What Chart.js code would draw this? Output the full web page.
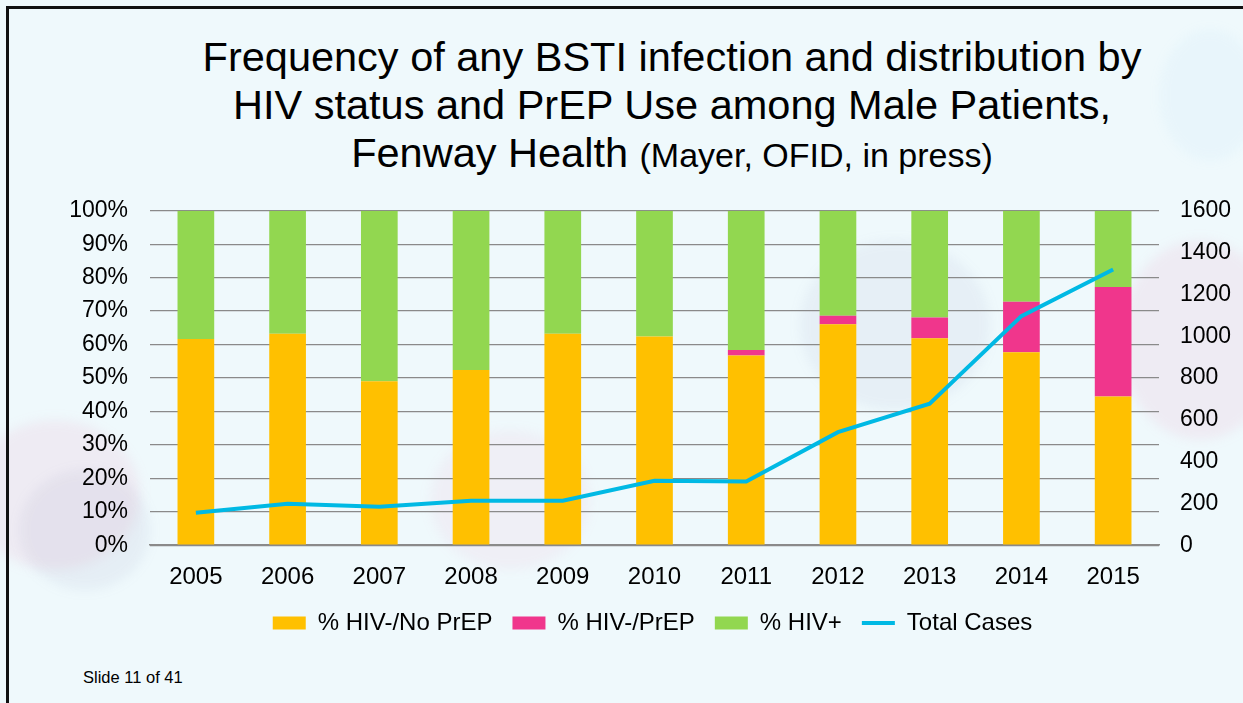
<!DOCTYPE html>
<html>
<head>
<meta charset="utf-8">
<script src="https://cdn.jsdelivr.net/npm/chart.js@4"></script>
<style>
  html, body { margin: 0; padding: 0; }
  body {
    width: 1243px; height: 703px; overflow: hidden; position: relative;
    background: #eff9fc;
    font-family: "Liberation Sans", Arial, sans-serif;
  }
  #frame {
    position: absolute; left: 6px; top: 6px; width: 1300px; height: 800px;
    border-left: 3px solid #111; border-top: 3px solid #111;
  }
  .blob { position: absolute; border-radius: 50%; filter: blur(6px); }
  #title {
    position: absolute; left: 101px; top: 33px; width: 1142px;
    text-align: center; font-size: 41.5px; line-height: 47.8px; color: #000;
  }
  #title small { font-size: 34px; }
  #wrap { position: absolute; left: 0; top: 175px; width: 1243px; height: 470px; }
  #slide { position: absolute; left: 83px; top: 668px; font-size: 16.5px; color: #000; }
</style>
</head>
<body>
<div class="blob" style="left:-30px;top:420px;width:170px;height:150px;background:rgba(240,120,170,0.10)"></div>
<div class="blob" style="left:20px;top:470px;width:130px;height:120px;background:rgba(120,110,170,0.08)"></div>
<div class="blob" style="left:1120px;top:240px;width:160px;height:200px;background:rgba(240,120,170,0.10)"></div>
<div class="blob" style="left:1160px;top:30px;width:100px;height:130px;background:rgba(150,200,240,0.08)"></div>
<div class="blob" style="left:430px;top:430px;width:160px;height:140px;background:rgba(240,120,170,0.07)"></div>
<div class="blob" style="left:800px;top:240px;width:190px;height:170px;background:rgba(120,110,170,0.07)"></div>
<div id="frame"></div>
<div id="title">Frequency of any BSTI infection and distribution by<br>HIV status and PrEP Use among Male Patients,<br>Fenway Health <small>(Mayer, OFID, in press)</small></div>
<div id="wrap"><canvas id="chart"></canvas></div>
<div id="slide">Slide 11 of 41</div>
<script>
// data
var years = ['2005', '2006', '2007', '2008', '2009', '2010', '2011', '2012', '2013', '2014', '2015'];
var hivNegNoPrep = [61.7, 63.2, 49.0, 52.4, 63.2, 62.4, 56.7, 66.1, 61.9, 57.7, 44.5];
var hivNegPrep = [0, 0, 0, 0, 0, 0, 1.7, 2.5, 6.2, 15.1, 32.7];
var hivPos = [38.3, 36.8, 51.0, 47.6, 36.8, 37.6, 41.6, 31.4, 31.9, 27.2, 22.8];
var totalCases = [155, 198, 184, 213, 213, 308, 305, 541, 677, 1096, 1319];
var pctTicks = [0, 10, 20, 30, 40, 50, 60, 70, 80, 90, 100];
var caseTicks = [0, 200, 400, 600, 800, 1000, 1200, 1400, 1600];

var FONT = '"Liberation Sans", Arial, sans-serif';

function barSet(label, data, color) {
    return {
        type: 'bar', label: label, data: data, backgroundColor: color,
        yAxisID: 'y', order: 1, categoryPercentage: 0.4, barPercentage: 1
    };
}

new Chart(document.getElementById('chart'), {
    data: {
        labels: years,
        datasets: [
            barSet('% HIV-/No PrEP', hivNegNoPrep, '#ffc000'),
            barSet('% HIV-/PrEP', hivNegPrep, '#f0368c'),
            barSet('% HIV+', hivPos, '#92d750'),
            {
                type: 'line', label: 'Total Cases', data: totalCases,
                borderColor: '#00b9e4', backgroundColor: '#00b9e4',
                borderWidth: 4, pointRadius: 0, tension: 0,
                yAxisID: 'y1', order: 0
            }
        ]
    },
    options: {
        responsive: true,
        maintainAspectRatio: false,
        animation: false,
        // left padding keeps the legend centred under the plot, like the slide
        layout: { padding: { left: 62, right: 0, top: 0, bottom: 0 } },
        plugins: {
            tooltip: { enabled: false },
            legend: {
                position: 'bottom',
                labels: {
                    color: '#000',
                    font: { family: FONT, size: 24 },
                    usePointStyle: true,
                    pointStyleWidth: 33,
                    boxHeight: 13,
                    padding: 20,
                    sort: function(a, b) { return a.datasetIndex - b.datasetIndex; },
                    generateLabels: function(chart) {
                        var items = Chart.defaults.plugins.legend.labels.generateLabels(chart);
                        items.forEach(function(it) {
                            var ds = chart.data.datasets[it.datasetIndex];
                            if (ds.type === 'line') {
                                it.pointStyle = 'line';
                                it.lineWidth = 4;
                                it.strokeStyle = ds.borderColor;
                            } else {
                                it.pointStyle = 'rect';
                                it.lineWidth = 0;
                                it.fillStyle = ds.backgroundColor;
                            }
                        });
                        return items;
                    }
                }
            }
        },
        scales: {
            x: {
                stacked: true,
                grid: { display: false },
                border: { display: true, color: '#8a8a8a', width: 1.5 },
                ticks: { color: '#000', font: { family: FONT, size: 24 }, padding: 10 },
                afterFit: function(axis) { axis.height -= 11; }
            },
            y: {
                stacked: true,
                position: 'left',
                min: 0, max: 100,
                afterBuildTicks: function(axis) {
                    axis.ticks = pctTicks.map(function(v) { return { value: v }; });
                },
                afterFit: function(axis) { axis.width = 88; },
                grid: { color: '#8a8a8a', lineWidth: 1.3, drawTicks: false },
                border: { display: false },
                ticks: {
                    autoSkip: false,
                    color: '#000', font: { family: FONT, size: 23 }, padding: 22,
                    callback: function(v) { return v + '%'; }
                }
            },
            y1: {
                position: 'right',
                min: 0, max: 1600,
                afterBuildTicks: function(axis) {
                    axis.ticks = caseTicks.map(function(v) { return { value: v }; });
                },
                afterFit: function(axis) { axis.width = 84; },
                grid: { display: false, drawTicks: false },
                border: { display: false },
                ticks: {
                    autoSkip: false,
                    color: '#000', font: { family: FONT, size: 23 }, padding: 21,
                    callback: function(v) { return String(v); }
                }
            }
        }
    }
});
</script>
</body>
</html>
